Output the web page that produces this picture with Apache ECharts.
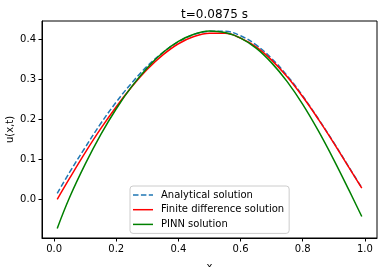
<!DOCTYPE html>
<html>
<head>
<meta charset="utf-8">
<script src="https://cdn.jsdelivr.net/npm/echarts@6/dist/echarts.min.js"></script>
<style>
html,body{margin:0;padding:0;background:#fff;}
#c{width:383px;height:267px;}
</style>
</head>
<body>
<div id="c"></div>
<script>
const xs = [0.01,0.05,0.10,0.15,0.20,0.25,0.30,0.35,0.40,0.45,0.50,0.55,0.60,0.65,0.70,0.75,0.80,0.85,0.90,0.95,0.99];
const analytical = [0.015,0.068,0.130,0.190,0.244,0.292,0.334,0.368,0.395,0.413,0.421,0.421,0.410,0.387,0.353,0.310,0.259,0.202,0.142,0.079,0.029];
const finiteDiff = [0.000,0.053,0.117,0.177,0.232,0.282,0.326,0.362,0.390,0.408,0.416,0.416,0.404,0.382,0.349,0.307,0.257,0.201,0.141,0.078,0.028];
const pinn = [-0.073,0.005,0.088,0.162,0.227,0.283,0.330,0.368,0.396,0.414,0.422,0.418,0.404,0.379,0.342,0.295,0.238,0.172,0.099,0.021,-0.043];
const seriesNames = ['Analytical solution','Finite difference solution','PINN solution'];
const titleText = 't=0.0875 s';

const pair = (arr) => xs.map((x, i) => [x, arr[i]]);
const font = 'DejaVu Sans';
const solidIcon = 'path://M0,0h20v1.5h-20z';
const dashIcon = 'path://M0,0h5.5v1.5h-5.5zM7.9,0h5.5v1.5h-5.5zM15.8,0h4.2v1.5h-4.2z';
const chart = echarts.init(document.getElementById('c'), null, {renderer: 'canvas'});
chart.setOption({
  animation: false,
  backgroundColor: '#fff',
  title: {
    text: titleText, left: 209.5, textAlign: 'center', top: 4,
    textStyle: {fontFamily: font, fontSize: 12, fontWeight: 'normal', color: '#000'}
  },
  grid: {left: 42, top: 21, width: 335, height: 217, containLabel: false, outerBoundsMode: 'none',
    show: true, borderColor: '#000', borderWidth: 1, backgroundColor: 'transparent'},
  xAxis: {
    type: 'value', min: -0.039, max: 1.039, splitNumber: 5,
    name: 'x', nameLocation: 'middle', nameGap: 24, nameMoveOverlap: false,
    nameTextStyle: {fontFamily: font, fontSize: 10, color: '#000', verticalAlign: 'top'},
    axisLine: {show: true, onZero: false, lineStyle: {color: '#000', width: 1}},
    axisTick: {show: true, inside: false, length: 3.5, lineStyle: {color: '#000', width: 1}},
    splitLine: {show: false},
    axisLabel: {showMinLabel: false, showMaxLabel: false, margin: 6, fontFamily: font, fontSize: 10, color: '#000',
      formatter: (v) => v.toFixed(1)}
  },
  yAxis: {
    type: 'value', min: -0.097, max: 0.447, splitNumber: 5,
    name: 'u(x,t)', nameLocation: 'middle', nameGap: 27, nameRotate: 90, nameMoveOverlap: false,
    nameTextStyle: {fontFamily: font, fontSize: 10, color: '#000'},
    axisLine: {show: true, onZero: false, lineStyle: {color: '#000', width: 1}},
    axisTick: {show: true, inside: false, length: 3.5, lineStyle: {color: '#000', width: 1}},
    splitLine: {show: false},
    axisLabel: {showMinLabel: false, showMaxLabel: false, margin: 6, fontFamily: font, fontSize: 10, color: '#000',
      formatter: (v) => v.toFixed(1)}
  },
  legend: {
    orient: 'vertical', left: 130, top: 186,
    padding: [3, 5, 3, 3],
    itemWidth: 20, itemHeight: 1.5, itemGap: 2.7,
    backgroundColor: '#fff', borderColor: '#cccccc', borderWidth: 1, borderRadius: 3,
    textStyle: {fontFamily: font, fontSize: 10, color: '#000', lineHeight: 12, padding: [0, 0, 0, 3]},
    data: [
      {name: seriesNames[0], icon: dashIcon},
      {name: seriesNames[1], icon: solidIcon},
      {name: seriesNames[2], icon: solidIcon}
    ]
  },
  series: [
    {name: seriesNames[0], type: 'line', data: pair(analytical), smooth: 0.4, symbol: 'none', showSymbol: false,
      lineStyle: {color: '#1f77b4', width: 1.5, type: [5.5, 2.4]}, itemStyle: {color: '#1f77b4'}},
    {name: seriesNames[1], type: 'line', data: pair(finiteDiff), smooth: 0.4, symbol: 'none', showSymbol: false,
      lineStyle: {color: '#ff0000', width: 1.5}, itemStyle: {color: '#ff0000'}},
    {name: seriesNames[2], type: 'line', data: pair(pinn), smooth: 0.4, symbol: 'none', showSymbol: false,
      lineStyle: {color: '#008000', width: 1.5}, itemStyle: {color: '#008000'}}
  ]
});
</script>
</body>
</html>
